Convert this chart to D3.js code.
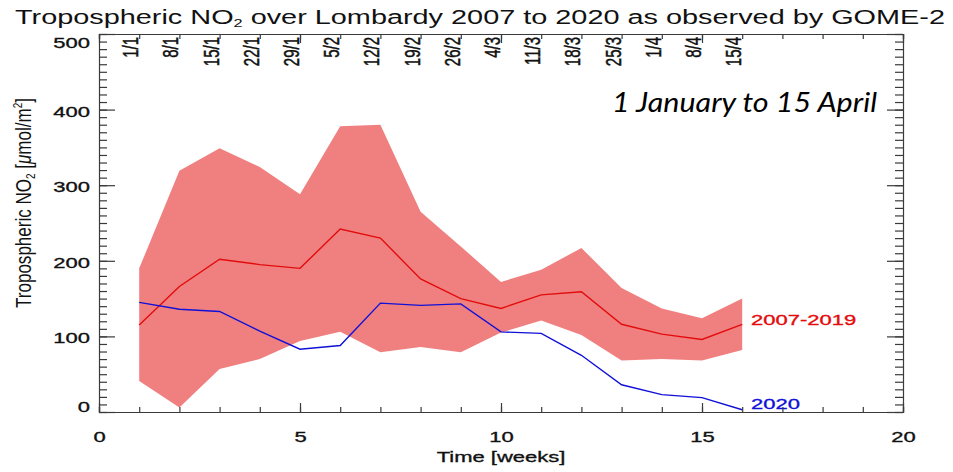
<!DOCTYPE html>
<html lang="en">
<head>
  <meta charset="utf-8">
  <title>Tropospheric NO2 over Lombardy</title>
  <script src="https://d3js.org/d3.v7.min.js"></script>
  <style>
    body {
      margin: 0;
      background: #fff;
    }
    svg {
      display: block;
      font-family: "Liberation Sans", Arial, Helvetica, sans-serif;
    }
    .axis path, .axis line {
      stroke: #3a3a3a;
      stroke-width: 1.2px;
    }
    .axis text {
      font-size: 15.5px;
      fill: #111;
    }
    .heavy {
      stroke-width: 0.35px;
      paint-order: stroke;
    }
  </style>
</head>
<body>
  <div id="chart"></div>

  <script>
    // Weekly values (weeks since 1 January)
    const weeks = [1, 2, 3, 4, 5, 6, 7, 8, 9, 10, 11, 12, 13, 14, 15, 16];
    const dateLabels = ["1/1", "8/1", "15/1", "22/1", "29/1", "5/2", "12/2", "19/2",
                        "26/2", "4/3", "11/3", "18/3", "25/3", "1/4", "8/4", "15/4"];
    const mean0719 = [115, 166, 202, 195, 190, 242, 230, 176, 150, 137, 155, 159, 116, 103, 96, 116];
    const low0719  = [41, 6, 57, 70, 94, 106, 79, 86, 79, 105, 121, 102, 68, 70, 68, 82];
    const high0719 = [190, 319, 349, 324, 288, 378, 380, 265, 219, 172, 188, 217, 164, 137, 124, 150];
    const no2_2020 = [145, 136, 133, 107, 83, 88, 144, 141, 143, 106, 104, 75, 36, 23, 19, 3];

    const xMajorTicks = [0, 5, 10, 15, 20];
    const yMajorTicks = [0, 100, 200, 300, 400, 500];

    // Layout
    const W = 953, H = 472;
    const frame = { left: 99, right: 903, top: 34, bottom: 412 };
    const SX = 1.42; // the original figure is stretched horizontally

    const svg = d3.select("#chart")
      .append("svg")
      .attr("width", W)
      .attr("height", H);

    const x = d3.scaleLinear().domain([0, 20]).range([frame.left, frame.right]);
    const y = d3.scaleLinear().domain([0, 500]).range([frame.bottom, frame.top]);

    // stretch text horizontally, keeping its anchor point
    function stretch(sel) {
      sel.each(function() {
        const t = d3.select(this);
        const tx = +t.attr("x") || 0;
        t.attr("x", tx / SX).attr("transform", `scale(${SX},1)`)
          .attr("class", "heavy").attr("stroke", "#111");
      });
    }

    // Min-max band 2007-2019
    const band = d3.area()
      .x((d, i) => x(weeks[i]))
      .y0((d, i) => y(low0719[i]))
      .y1((d, i) => y(high0719[i]));

    svg.append("path")
      .datum(high0719)
      .attr("d", band)
      .attr("fill", "#f08080");

    const line = d3.line()
      .x((d, i) => x(weeks[i]))
      .y(d => y(d));

    svg.append("path")
      .datum(mean0719)
      .attr("d", line)
      .attr("fill", "none")
      .attr("stroke", "#e30b0b")
      .attr("stroke-width", 1.4);

    svg.append("path")
      .datum(no2_2020)
      .attr("d", line)
      .attr("fill", "none")
      .attr("stroke", "#1010d8")
      .attr("stroke-width", 1.4);

    // Series labels
    svg.append("text")
      .attr("class", "heavy")
      .attr("x", 751 / SX)
      .attr("y", 325)
      .attr("transform", `scale(${SX},1)`)
      .attr("fill", "#e30b0b")
      .attr("stroke", "#e30b0b")
      .style("font-size", "15.5px")
      .text("2007-2019");

    svg.append("text")
      .attr("class", "heavy")
      .attr("x", 751 / SX)
      .attr("y", 409)
      .attr("transform", `scale(${SX},1)`)
      .attr("fill", "#1010d8")
      .attr("stroke", "#1010d8")
      .style("font-size", "15.5px")
      .text("2020");

    // Axes (ticks point inward, as in the IDL plot)
    const gBottom = svg.append("g").attr("class", "axis")
      .attr("transform", `translate(0,${frame.bottom})`);
    gBottom.call(d3.axisBottom(x).tickValues(d3.range(0, 21, 1)).tickSize(-5).tickFormat(""));
    gBottom.append("g")
      .call(d3.axisBottom(x).tickValues(xMajorTicks).tickSize(-9).tickPadding(19).tickFormat(d3.format("d")))
      .call(g => g.select(".domain").remove())
      .selectAll("text").call(stretch);

    const gTop = svg.append("g").attr("class", "axis")
      .attr("transform", `translate(0,${frame.top})`);
    gTop.call(d3.axisTop(x).tickValues(d3.range(0, 21, 1)).tickSize(-5).tickFormat(""));
    gTop.append("g")
      .call(d3.axisTop(x).tickValues(xMajorTicks).tickSize(-9).tickFormat(""))
      .call(g => g.select(".domain").remove());

    const gLeft = svg.append("g").attr("class", "axis")
      .attr("transform", `translate(${frame.left},0)`);
    gLeft.call(d3.axisLeft(y).tickValues(d3.range(0, 501, 10)).tickSize(-8).tickFormat(""));
    gLeft.append("g")
      .call(d3.axisLeft(y).tickValues(yMajorTicks).tickSize(-16).tickPadding(9).tickFormat(d3.format("d")))
      .call(g => g.select(".domain").remove())
      .call(g => g.selectAll(".tick text")
        .attr("dy", d => d === 500 ? "0.85em" : d === 0 ? "-0.02em" : "0.42em"))
      .selectAll("text").call(stretch);

    const gRight = svg.append("g").attr("class", "axis")
      .attr("transform", `translate(${frame.right},0)`);
    gRight.call(d3.axisRight(y).tickValues(d3.range(0, 501, 10)).tickSize(-8).tickFormat(""));
    gRight.append("g")
      .call(d3.axisRight(y).tickValues(yMajorTicks).tickSize(-16).tickFormat(""))
      .call(g => g.select(".domain").remove());

    // Date labels along the top, rotated
    svg.append("g")
      .selectAll("text")
      .data(dateLabels)
      .join("text")
      .attr("class", "heavy")
      .attr("transform", (d, i) => `translate(${x(weeks[i]) - 1},37) rotate(-90) scale(1,${SX})`)
      .attr("text-anchor", "end")
      .style("font-size", "15px")
      .attr("fill", "#111")
      .attr("stroke", "#111")
      .text(d => d);

    // Axis titles
    svg.append("text")
      .attr("class", "heavy")
      .attr("x", x(10) / SX)
      .attr("y", 462)
      .attr("transform", `scale(${SX},1)`)
      .attr("text-anchor", "middle")
      .style("font-size", "15.5px")
      .attr("fill", "#111")
      .attr("stroke", "#111")
      .text("Time [weeks]");

    const yTitle = svg.append("text")
      .attr("transform", `translate(31,203) rotate(-90) scale(1,${SX})`)
      .attr("text-anchor", "middle")
      .attr("textLength", 210)
      .attr("lengthAdjust", "spacingAndGlyphs")
      .style("font-size", "15.5px")
      .attr("fill", "#111");
    yTitle.append("tspan").text("Tropospheric NO");
    yTitle.append("tspan").attr("dy", 3).style("font-size", "9px").text("2");
    yTitle.append("tspan").attr("dy", -3).text(" [");
    yTitle.append("tspan").style("font-style", "italic").text("\u03bc");
    yTitle.append("tspan").text("mol/m");
    yTitle.append("tspan").attr("dy", -6).style("font-size", "9px").text("2");
    yTitle.append("tspan").attr("dy", 6).text("]");

    // Main title
    const title = svg.append("text")
      .attr("x", 15)
      .attr("y", 24)
      .attr("textLength", 930)
      .attr("lengthAdjust", "spacingAndGlyphs")
      .style("font-size", "19.5px")
      .attr("fill", "#111");
    title.append("tspan").text("Tropospheric NO");
    title.append("tspan").attr("dy", 3).style("font-size", "11px").text("2");
    title.append("tspan").attr("dy", -3).text(" over Lombardy 2007 to 2020 as observed by GOME-2");

    // Period annotation
    svg.append("text")
      .attr("x", 612)
      .attr("y", 112)
      .attr("textLength", 265)
      .attr("lengthAdjust", "spacingAndGlyphs")
      .style("font-family", "Lato, 'Open Sans', sans-serif")
      .style("font-style", "italic")
      .style("font-size", "27px")
      .attr("fill", "#000")
      .text("1 January to 15 April");
  </script>
</body>
</html>
